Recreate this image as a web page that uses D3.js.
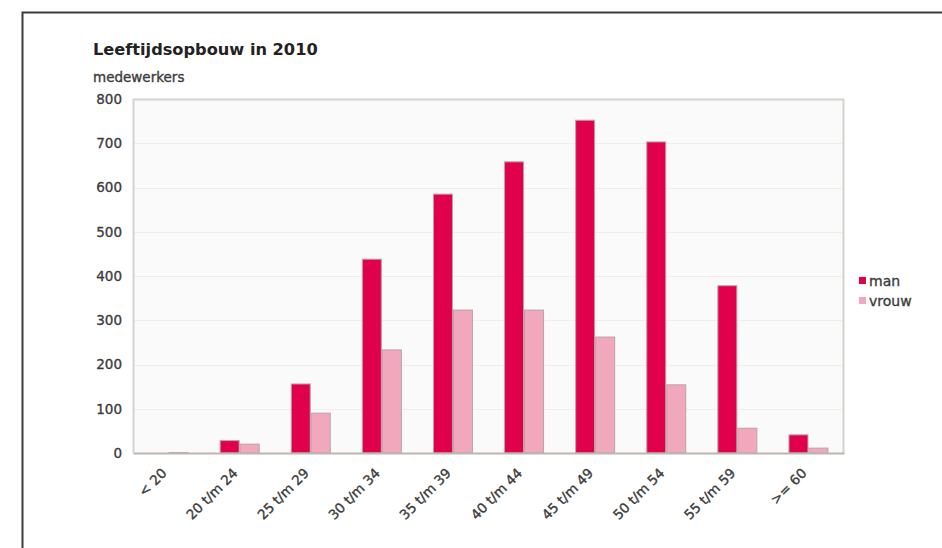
<!DOCTYPE html>
<html>
<head>
<meta charset="utf-8">
<script src="https://cdn.jsdelivr.net/npm/d3@7"></script>
<style>
  html, body { margin: 0; padding: 0; background: #fff; }
  svg { display: block; font-family: "DejaVu Sans", Verdana, sans-serif; }
  .lbl { paint-order: stroke; stroke-width: 0.35px; }
</style>
</head>
<body>
<svg id="chart" width="942" height="548"></svg>
<script>
// Age groups and headcount per gender
const categories = ["< 20", "20 t/m 24", "25 t/m 29", "30 t/m 34", "35 t/m 39",
                    "40 t/m 44", "45 t/m 49", "50 t/m 54", "55 t/m 59", ">= 60"];
const seriesNames = ["man", "vrouw"];
const manValues   = [0, 28, 156, 438, 585, 658, 752, 703, 378, 41];
const vrouwValues = [1, 20, 90, 233, 323, 323, 262, 154, 56, 11];
const yTicks = [0, 100, 200, 300, 400, 500, 600, 700, 800];
const colors = { man: "#e1004b", vrouw: "#f1a8bd" };
const textColor = "#3c3c3c";

const svg = d3.select("#chart");

// outer frame
svg.append("rect")
  .attr("x", 22.5).attr("y", 12.5)
  .attr("width", 940).attr("height", 600)
  .attr("fill", "none").attr("stroke", "#3a3a3a").attr("stroke-width", 2);

const plot = { left: 133, right: 844, top: 99, bottom: 453 };

const x = d3.scaleBand().domain(categories).range([plot.left, plot.right]);
const barW = 20;
const xs = d3.scaleBand().domain(seriesNames).range([0, barW * 2]);
const y = d3.scaleLinear().domain([0, 800]).range([plot.bottom, plot.top]);

// title and unit
svg.append("text")
  .attr("x", 93).attr("y", 55)
  .attr("font-size", 16.2).attr("font-weight", "bold").attr("fill", "#222")
  .text("Leeftijdsopbouw in 2010");
svg.append("text")
  .attr("class", "lbl")
  .attr("x", 93).attr("y", 82)
  .attr("font-size", 13.5).attr("fill", textColor).attr("stroke", textColor)
  .text("medewerkers");

// plot background
svg.append("rect")
  .attr("x", plot.left).attr("y", plot.top)
  .attr("width", plot.right - plot.left).attr("height", plot.bottom - plot.top)
  .attr("fill", "#fafafa");

// gridlines
svg.append("g")
  .selectAll("line")
  .data(yTicks.filter(d => d > 0 && d < 800))
  .join("line")
  .attr("x1", plot.left).attr("x2", plot.right)
  .attr("y1", d => Math.round(y(d)) + 0.5).attr("y2", d => Math.round(y(d)) + 0.5)
  .attr("stroke", "#f1eeea").attr("stroke-width", 1);

// plot border (top, right, left)
svg.append("path")
  .attr("d", `M${plot.left + 0.5},${plot.bottom} V${plot.top + 0.5} H${plot.right - 0.5} V${plot.bottom}`)
  .attr("fill", "none").attr("stroke", "#d6d2ce").attr("stroke-width", 2);

// bars
const data = categories.map((c, i) => ({ cat: c, man: manValues[i], vrouw: vrouwValues[i] }));
const groups = svg.append("g")
  .selectAll("g")
  .data(data)
  .join("g")
  .attr("transform", d => `translate(${x(d.cat) + x.bandwidth() / 2 - barW},0)`);

groups.selectAll("rect")
  .data(d => seriesNames.map(k => ({ key: k, value: d[k] })))
  .join("rect")
  .attr("x", d => xs(d.key) + 0.5)
  .attr("width", barW - 1)
  .attr("y", d => y(d.value))
  .attr("height", d => y(0) - y(d.value))
  .attr("fill", d => colors[d.key])
  .attr("stroke", d => d.value > 0 ? "#b9a3a8" : "none")
  .attr("stroke-width", 1);

// y axis
const yAxis = d3.axisLeft(y).tickValues(yTicks).tickSize(0).tickPadding(11);
const gy = svg.append("g")
  .attr("transform", `translate(${plot.left},0)`)
  .call(yAxis);
gy.select(".domain").remove();
gy.selectAll("text")
  .attr("class", "lbl")
  .attr("font-size", 13.5).attr("fill", textColor).attr("stroke", textColor)
  .attr("font-family", "'DejaVu Sans', Verdana, sans-serif");

// x axis
const xAxis = d3.axisBottom(x).tickSize(0).tickPadding(0);
const gx = svg.append("g")
  .attr("transform", `translate(0,${plot.bottom})`)
  .call(xAxis);
gx.select(".domain").attr("stroke", "#bdb6af").attr("stroke-width", 2);
gx.selectAll("text")
  .attr("class", "lbl")
  .attr("font-size", 13.5).attr("fill", textColor).attr("stroke", textColor)
  .attr("font-family", "'DejaVu Sans', Verdana, sans-serif")
  .attr("text-anchor", "end")
  .attr("dy", "0")
  .attr("transform", "translate(-1,21) rotate(-45)");

// legend
const legend = svg.append("g").attr("transform", "translate(859,277)");
const li = legend.selectAll("g")
  .data(seriesNames)
  .join("g")
  .attr("transform", (d, i) => `translate(0,${i * 20})`);
li.append("rect")
  .attr("width", 7).attr("height", 7)
  .attr("fill", d => colors[d]);
li.append("text")
  .attr("class", "lbl")
  .attr("x", 10).attr("y", 8.5)
  .attr("font-size", 14).attr("fill", textColor).attr("stroke", textColor)
  .text(d => d);
</script>
</body>
</html>
